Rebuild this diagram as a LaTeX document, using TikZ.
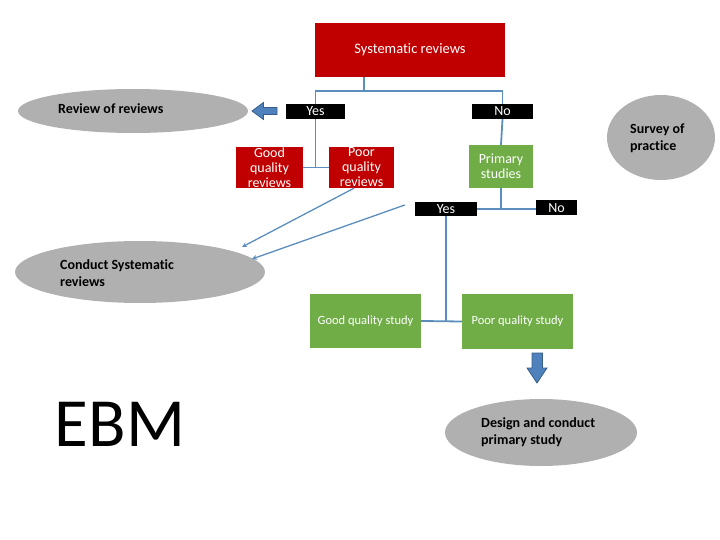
\documentclass[tikz,border=0pt]{standalone}
\usepackage{fontspec}
\setmainfont[Ligatures={NoCommon}]{Carlito}
\usetikzlibrary{shapes.geometric,arrows.meta}
\definecolor{boxred}{RGB}{192,0,0}
\definecolor{boxgreen}{RGB}{112,173,71}
\definecolor{ellgray}{RGB}{176,176,176}
\definecolor{linkblue}{RGB}{91,141,189}
\definecolor{arrowfill}{RGB}{79,129,189}
\definecolor{arrowline}{RGB}{56,93,138}
\tikzset{
  redbox/.style={fill=boxred, text=white, inner sep=0pt, align=center, font=\fontsize{14}{15}\selectfont},
  greenbox/.style={fill=boxgreen, text=white, inner sep=0pt, align=center, font=\fontsize{14}{15}\selectfont},
  tag/.style={fill=black, text=white, inner sep=0pt, font=\fontsize{14}{14}\selectfont},
  oval/.style={ellipse, fill=ellgray, inner sep=0pt},
  ovaltext/.style={anchor=west, align=left, inner sep=0pt, font=\bfseries\fontsize{14}{17}\selectfont},
  conn/.style={draw=linkblue, line width=1.8pt},
  diag/.style={draw=linkblue, line width=1.3pt, -{Stealth[length=5pt,width=5pt]}},
  blockarrow/.style={fill=arrowfill, draw=arrowline, line width=0.8pt}
}
\begin{document}
\begin{tikzpicture}[x=1pt,y=-1pt]
\useasboundingbox (0,0) rectangle (720,540);
% boxes
\node[redbox, minimum width=190pt, minimum height=54pt, font=\fontsize{14.5}{15}\selectfont] (sr) at (410,50) {Systematic reviews};
\node[tag, minimum width=59pt, minimum height=15pt] (yes1) at (315.5,111.5) {Yes};
\node[tag, minimum width=61pt, minimum height=15pt] (no1) at (502.5,111.5) {No};
\node[redbox, minimum width=67pt, minimum height=41pt] (goodrev) at (269.5,167.5) {Good\\quality\\reviews};
\node[redbox, minimum width=65pt, minimum height=41pt] (poorrev) at (361.5,167.5) {Poor\\quality\\reviews};
\node[greenbox, minimum width=64pt, minimum height=43pt] (primary) at (501,166.5) {Primary\\studies};
\node[tag, minimum width=62pt, minimum height=14pt] (yes2) at (446,209) {Yes};
\node[tag, minimum width=41pt, minimum height=15pt] (no2) at (556.5,208) {No};
\node[greenbox, minimum width=111pt, minimum height=54pt, font=\fontsize{12.5}{14}\selectfont] (goodstudy) at (365.5,321) {Good quality study};
\node[greenbox, minimum width=111pt, minimum height=55pt, font=\fontsize{12.5}{14}\selectfont] (poorstudy) at (517.5,321.5) {Poor quality study};
% ellipses
\node[oval, minimum width=230pt, minimum height=44pt] (rr) at (133,111) {};
\node[ovaltext] (rrt) at (58,109) {Review of reviews};
\node[oval, minimum width=250pt, minimum height=62pt] (csr) at (140,272) {};
\node[ovaltext] (csrt) at (60,273.5) {Conduct Systematic\\reviews};
\node[oval, minimum width=108pt, minimum height=85pt] (survey) at (661,137.5) {};
\node[ovaltext] (surveyt) at (630,138) {Survey of\\practice};
\node[oval, minimum width=192pt, minimum height=67pt] (design) at (541,432.5) {};
\node[ovaltext] (designt) at (481,432.5) {Design and conduct\\primary study};
% EBM
\node[inner sep=0pt, font=\fontsize{69}{70}\selectfont] (ebm) at (120,424) {EBM};
% connectors
\coordinate (j1) at (364,91);
\draw[conn] (sr.south -| j1) -- (j1);
\draw[conn] (j1) -| (yes1.north);
\draw[conn] (j1) -| (no1.north);
\draw[conn] (yes1.south) -- (yes1.south |- goodrev.east);
\draw[conn] (goodrev.east) -- (poorrev.west);
\draw[conn] (no1.south) -- (primary.north);
\draw[conn] (primary.south) -- (primary.south |- yes2.east);
\draw[conn] (yes2.east) -- (no2.west |- yes2.east);
\draw[conn] (yes2.south) -- (yes2.south |- goodstudy.east);
\draw[conn] (goodstudy.east) -- (poorstudy.west);
% diagonal links to Conduct Systematic reviews
\coordinate (e1) at (242,247);
\coordinate (e2) at (252,259);
\draw[diag] ([xshift=-7.5pt]poorrev.south) -- (e1);
\draw[diag] ([shift={(-10pt,4pt)}]yes2.west) -- (e2);
% block arrows
\draw[blockarrow] (252,111) -- (263.5,102.5) -- (263.5,107.5) -- (277,107.5) -- (277,114.5) -- (263.5,114.5) -- (263.5,119.5) -- cycle;
\draw[blockarrow] (537,383) -- (527,368) -- (532,368) -- (532,353) -- (542.5,353) -- (542.5,368) -- (547,368) -- cycle;
\end{tikzpicture}
\end{document}
